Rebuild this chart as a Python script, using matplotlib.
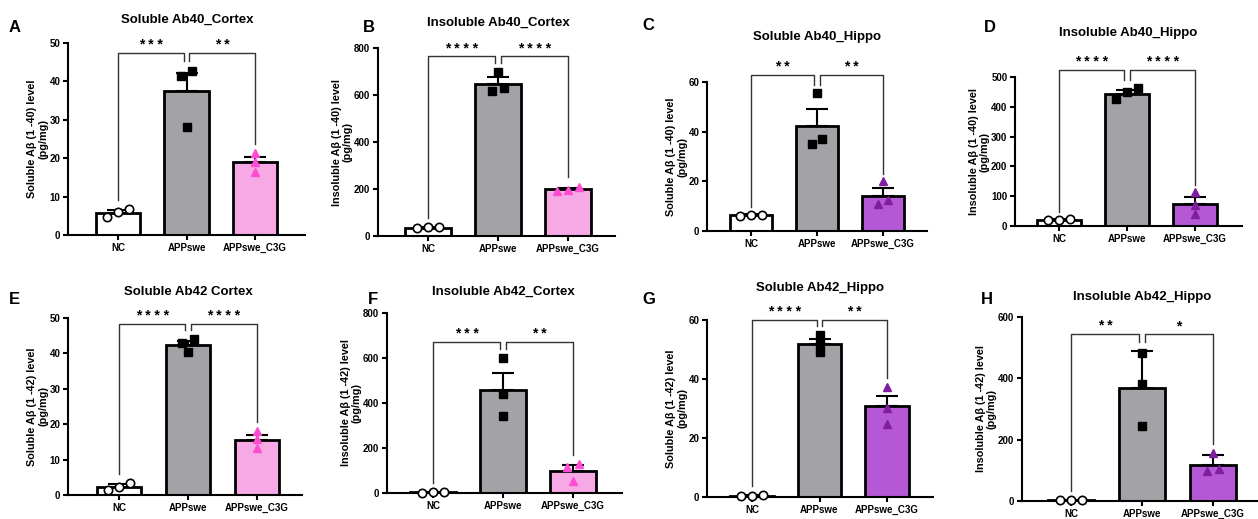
import matplotlib.pyplot as plt
import numpy as np

plt.rcParams['font.family'] = ['Liberation Sans', 'DejaVu Sans']
plt.rcParams['font.weight'] = 'bold'

groups = ["NC", "APPswe", "APPswe_C3G"]
letters = ["A", "B", "C", "D", "E", "F", "G", "H"]
titles = ["Soluble Ab40_Cortex", "Insoluble Ab40_Cortex", "Soluble Ab40_Hippo", "Insoluble Ab40_Hippo",
          "Soluble Ab42 Cortex", "Insoluble Ab42_Cortex", "Soluble Ab42_Hippo", "Insoluble Ab42_Hippo"]
ylabels = ["Soluble A\u03b2 (1 -40) level\n(pg/mg)", "Insoluble A\u03b2 (1 -40) level\n(pg/mg)",
           "Soluble A\u03b2 (1 -40) level\n(pg/mg)", "Insoluble A\u03b2 (1 -40) level\n(pg/mg)",
           "Soluble A\u03b2 (1 -42) level\n(pg/mg)", "Insoluble A\u03b2 (1 -42) level\n(pg/mg)",
           "Soluble A\u03b2 (1 -42) level\n(pg/mg)", "Insoluble A\u03b2 (1 -42) level\n(pg/mg)"]
ymax = [50, 800, 60, 500, 50, 800, 60, 600]
ystep = [10, 200, 20, 100, 10, 200, 20, 200]

# bar means, SEM and individual animals (NC, APPswe, APPswe_C3G)
mean_A = [5.8, 37.5, 18.9]
sem_A = [0.6, 4.7, 1.5]
pts_A = [[6.7, 6.1, 4.8], [42.8, 41.3, 28.1], [21.3, 18.9, 16.3]]

mean_B = [35, 646, 199]
sem_B = [2, 29, 5]
pts_B = [[33, 38, 37], [697, 619, 631], [193, 210, 197]]

mean_C = [6.3, 42.1, 14.0]
sem_C = [0.4, 7.2, 3.3]
pts_C = [[6.0, 6.6, 6.5], [55.7, 34.9, 37.0], [20.1, 10.7, 12.6]]

mean_D = [20, 442, 74]
sem_D = [2, 14, 22]
pts_D = [[20, 22, 21], [464, 448, 427], [113, 72, 40]]

mean_E = [2.4, 42.3, 15.6]
sem_E = [0.6, 1.2, 1.4]
pts_E = [[3.3, 2.4, 1.4], [44.1, 42.9, 40.4], [18.2, 15.8, 13.4]]

mean_F = [4, 456, 99]
sem_F = [1, 79, 25]
pts_F = [[2, 4, 3], [600, 440, 341], [129, 117, 55]]

mean_G = [0.5, 51.7, 30.7]
sem_G = [0.1, 1.8, 3.6]
pts_G = [[0.3, 0.6, 0.5], [54.9, 52.0, 49.0], [37.2, 30.1, 24.8]]

mean_H = [3, 367, 117]
sem_H = [0.5, 122, 34]
pts_H = [[2, 4, 3], [484, 380, 244], [155, 99, 104]]

stars = [["***", "**"], ["****", "****"], ["**", "**"], ["****", "****"],
         ["****", "****"], ["***", "**"], ["****", "**"], ["**", "*"]]

means = [mean_A, mean_B, mean_C, mean_D, mean_E, mean_F, mean_G, mean_H]
sems = [sem_A, sem_B, sem_C, sem_D, sem_E, sem_F, sem_G, sem_H]
points = [pts_A, pts_B, pts_C, pts_D, pts_E, pts_F, pts_G, pts_H]

# layout in pixels: axis left, right, top, bottom, NC centre, group spacing
W, H = 1258, 519
boxes = [(68, 305, 43, 235, 118, 68.5), (378, 615, 48, 236, 428, 70),
         (707, 927, 82, 231, 751, 66), (1015, 1242, 77, 226, 1059, 68),
         (68, 302, 318, 495, 119, 69), (387, 622, 313, 493, 433, 70),
         (707, 933, 320, 497, 752, 67.5), (1022, 1258, 317, 501, 1071, 71)]
title_xy = [(187, 20), (498, 23), (817, 37), (1128, 33), (188, 292), (503, 292), (820, 288), (1142, 297)]
letter_xy = [(15, 28), (369, 28), (648, 25), (990, 28), (14, 300), (373, 300), (649, 299), (987, 299)]
bracket_y = [47.4, 764, 63, 525, 48.3, 670, 60, 544]

cortex_col = ['white', '#A3A3A7', '#F6A9E4']
hippo_col = ['white', '#A3A3A7', '#B558D6']
cortex_tri = '#FF4DD2'
hippo_tri = '#7F1FA0'


def jitter(vals, ym, step=0.16):
    # spread points that sit close to each other, like a small beeswarm
    order = np.argsort(vals)
    offs = np.zeros(len(vals))
    clusters = [[order[0]]]
    for i in order[1:]:
        if vals[i] - vals[clusters[-1][-1]] < 0.045 * ym:
            clusters[-1].append(i)
        else:
            clusters.append([i])
    for c in clusters:
        n = len(c)
        for k, i in enumerate(c):
            offs[i] = (k - (n - 1) / 2) * step
    return offs


fig = plt.figure(figsize=(W / 100, H / 100), dpi=100)

for p in range(8):
    l, r, t, b, nc, sp = boxes[p]
    ax = fig.add_axes([l / W, 1 - b / H, (r - l) / W, (b - t) / H])
    ym = ymax[p]
    x = np.arange(3)
    hippo = 'Hippo' in titles[p]
    cols = hippo_col if hippo else cortex_col
    tri = hippo_tri if hippo else cortex_tri

    ax.bar(x, means[p], width=0.65, color=cols, edgecolor='black', linewidth=2, zorder=2)
    ax.errorbar(x, means[p], yerr=[[0, 0, 0], sems[p]], fmt='none', ecolor='black',
                elinewidth=1.5, capsize=8, capthick=1.5, zorder=3)

    styles = [dict(marker='o', mfc='white', mec='black', mew=1.2, ms=6),
              dict(marker='s', mfc='black', mec='black', ms=5.5),
              dict(marker='^', mfc=tri, mec=tri, ms=6)]
    for g in range(3):
        v = points[p][g]
        ax.plot(g + jitter(v, ym), v, linestyle='none', zorder=4, clip_on=False, **styles[g])

    # significance brackets
    tops = [max(max(points[p][g]), means[p][g] + sems[p][g]) + 0.05 * ym for g in range(3)]
    by = bracket_y[p]
    d = 0.04
    for (x1, x2, b1, b2, s) in [(0, 1 - d, tops[0], tops[1], stars[p][0]),
                                (1 + d, 2, tops[1], tops[2], stars[p][1])]:
        ax.plot([x1, x1, x2, x2], [b1, by, by, b2], color='#333333', lw=1, clip_on=False, zorder=1)
        ax.text((x1 + x2) / 2, by + 0.005 * ym, " ".join(s), ha='center', va='bottom', fontsize=10,
                clip_on=False)

    ax.set_xlim((l - nc) / sp, (r - nc) / sp)
    ax.set_ylim(0, ym)
    ax.set_yticks(np.arange(0, ym + 1, ystep[p]))
    ax.set_xticks(x)
    ax.set_xticklabels(groups)
    ax.spines['top'].set_visible(False)
    ax.spines['right'].set_visible(False)
    ax.spines['left'].set_linewidth(1.5)
    ax.spines['bottom'].set_linewidth(1.5)
    ax.tick_params(axis='both', labelsize=7, width=1.5, length=3.5, pad=2)
    for lab in ax.get_xticklabels() + ax.get_yticklabels():
        lab.set_fontweight('bold')
    ax.set_ylabel(ylabels[p], fontsize=7.8, fontweight='bold', labelpad=1, linespacing=1.1)

    fig.text(title_xy[p][0] / W, 1 - title_xy[p][1] / H, titles[p], ha='center', va='center',
             fontsize=9.5, fontweight='bold')
    fig.text(letter_xy[p][0] / W, 1 - letter_xy[p][1] / H, letters[p], ha='center', va='center',
             fontsize=12, fontweight='bold')

fig.savefig('out.png', dpi=100)
